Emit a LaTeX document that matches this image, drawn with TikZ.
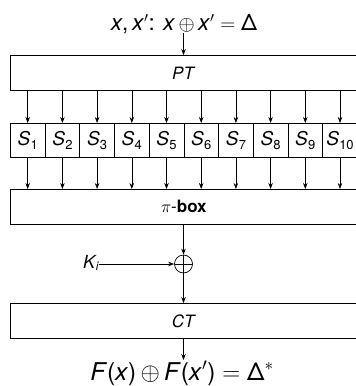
\documentclass[tikz,border=0pt]{standalone}
\usepackage{fontspec}
\setmainfont{TeX Gyre Heros}
\usetikzlibrary{arrows.meta}
\newcommand\Sbx[1]{\textit{S}\kern0.3pt\raisebox{-0.35ex}{\fontsize{13}{13}\selectfont #1}}
\begin{document}
\begin{tikzpicture}[x=1pt,y=-1pt,
  box/.style={draw, line width=0.7pt, minimum height=35pt, minimum width=347pt, inner sep=0pt, anchor=north west, font=\fontsize{17}{19}\selectfont},
  sbox/.style={draw, line width=0.7pt, minimum height=34pt, minimum width=34.7pt, inner sep=0pt, anchor=north west, font=\fontsize{19}{20}\selectfont},
  arr/.style={-{Stealth[length=6pt,width=4.5pt]}, line width=0.6pt},
  formula/.style={inner sep=0pt, anchor=base}]
\useasboundingbox (0,0) rectangle (356,386);
\clip (0,0) rectangle (356,386);
\node[formula, font=\fontsize{22.5}{26}\selectfont] (top) at (184,30) {\textit{x},\,\textit{x}$'$: \textit{x}$\,\oplus\,$\textit{x}$'{}={}$Δ};
\node[box] (pt) at (10,55) {\textit{PT}};
\foreach \i in {1,...,10} {
  \node[sbox] (s\i) at ({10+(\i-1)*34.7},123) {\Sbx{\i}};
  \draw[arr] (s\i.north |- pt.south) -- (s\i.north);
}
\node[box] (pi) at (10,189) {$\pi$-\textbf{box}};
\foreach \i in {1,...,10} {
  \draw[arr] (s\i.south) -- (s\i.south |- pi.north);
}
\node[circle, draw, line width=0.7pt, minimum size=18pt, inner sep=0pt,
  path picture={\draw[line width=0.7pt] (path picture bounding box.north) -- (path picture bounding box.south) (path picture bounding box.west) -- (path picture bounding box.east);}] (xor) at (183.5,264) {};
\node[inner sep=0pt, anchor=base west, font=\fontsize{18}{19}\selectfont] (k) at (83,268) {\textit{K}\kern-1pt\raisebox{-0.3ex}{\fontsize{12}{12}\selectfont\textit{i}}};
\node[box] (ct) at (10,303) {\textit{CT}};
\node[formula, font=\fontsize{24.5}{28}\selectfont] (bot) at (182,380) {\textit{F}(\textit{x})$\,\oplus\,$\textit{F}(\textit{x}$'$)${}={}$Δ$^{*}$};
\coordinate (botin) at (183.5,360);
\coordinate (topout) at (183.5,33);
\draw[arr] (topout) -- (topout |- pt.north);
\draw[arr] (xor.north |- pi.south) -- (xor.north);
\draw[arr] (k.east |- xor.west) -- (xor.west);
\draw[arr] (xor.south) -- (xor.south |- ct.north);
\draw[arr] (xor.south |- ct.south) -- (botin);
\end{tikzpicture}
\end{document}
